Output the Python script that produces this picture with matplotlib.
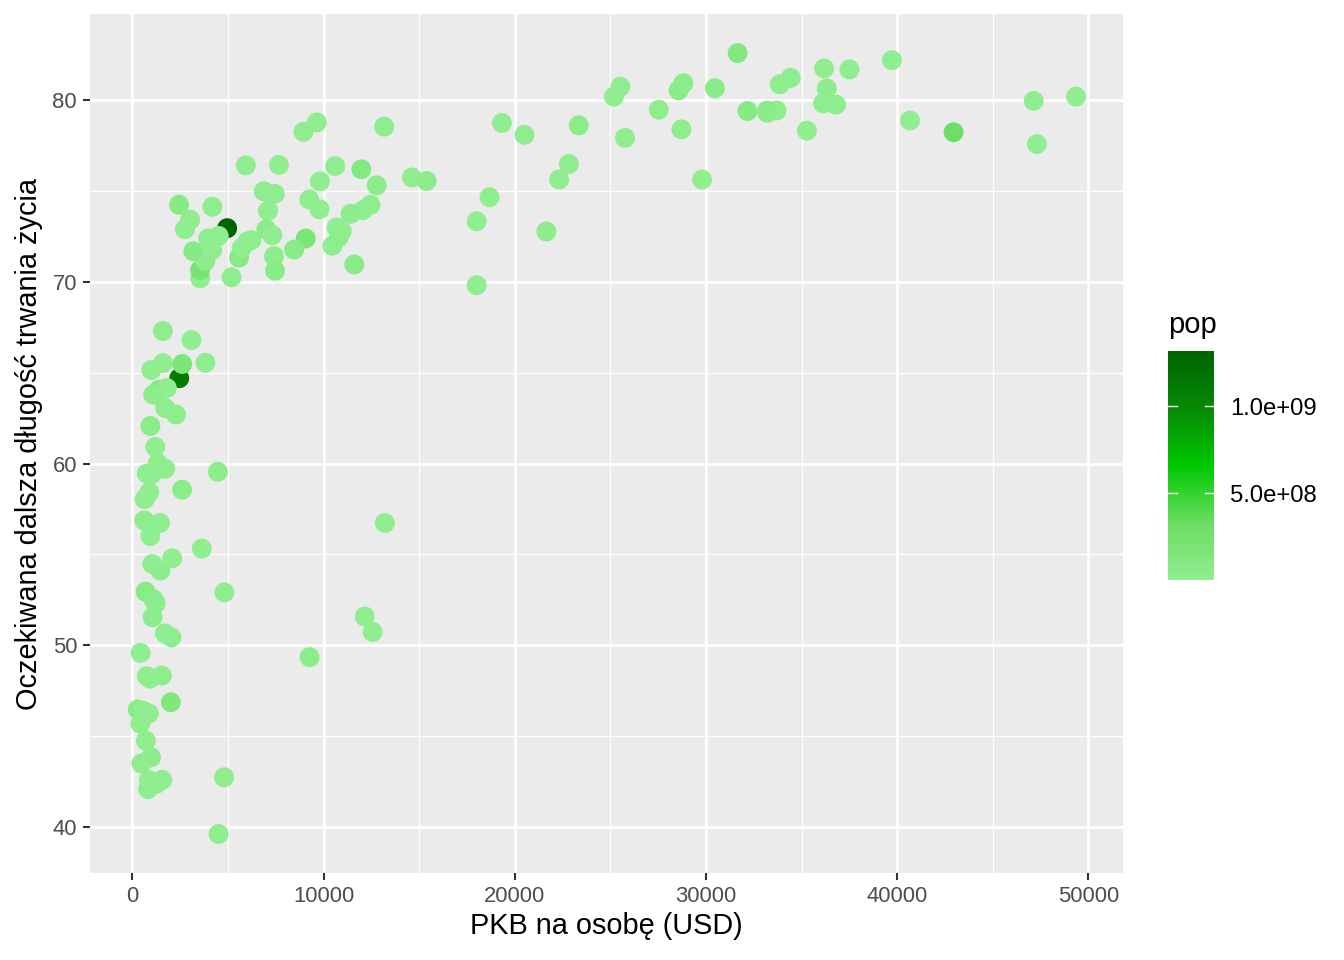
import numpy as np
import matplotlib
matplotlib.use("Agg")
from matplotlib import pyplot as plt
from matplotlib.colors import LinearSegmentedColormap, Normalize

plt.rcParams['font.family'] = ['Liberation Sans', 'DejaVu Sans']

# gapminder 2007: GDP per capita, life expectancy, population
gdp = [974.58, 5937.03, 6223.37, 4797.23, 12779.38, 34435.37, 36126.49, 29796.05,
       1391.25, 33692.61, 1441.28, 3822.14, 7446.30, 12569.85, 9065.80, 10680.79,
       1217.03, 430.07, 1713.78, 2042.10, 36319.24, 706.02, 1704.06, 13171.64,
       4959.11, 7006.58, 986.15, 277.55, 3632.56, 9645.06, 1544.75, 14619.22,
       8948.10, 22833.31, 35278.42, 2082.48, 6025.37, 6873.26, 5581.18, 5728.35,
       12154.09, 641.37, 690.81, 33207.08, 30470.02, 13206.48, 752.75, 32170.37,
       1327.61, 27538.41, 5186.05, 942.65, 579.23, 1201.64, 3548.33, 39724.98,
       18008.94, 36180.79, 2452.21, 3540.65, 11605.71, 4471.06, 40676.00, 25523.28,
       28569.72, 7320.88, 31656.07, 4519.46, 1463.25, 1593.07, 23348.14, 47306.99,
       10461.06, 1569.33, 414.51, 12057.50, 1044.77, 759.35, 12451.66, 1042.58,
       1803.15, 10956.99, 11977.57, 3095.77, 9253.90, 3820.18, 823.69, 944.00,
       4811.06, 1091.36, 36797.93, 25185.01, 2749.32, 619.68, 2013.98, 49357.19,
       22316.19, 2605.95, 9809.19, 4172.84, 7408.91, 3190.48, 15389.92, 20509.65,
       19328.71, 7670.12, 10808.48, 863.09, 1598.44, 21654.83, 1712.47, 9786.53,
       862.54, 47143.18, 18678.31, 25768.26, 926.14, 9269.66, 28821.06, 3970.10,
       2602.39, 4513.48, 33859.75, 37506.42, 4184.55, 28718.28, 1107.48, 7458.40,
       882.97, 18008.51, 7092.92, 8458.28, 1056.38, 33203.26, 42951.65, 10611.46,
       11415.81, 2441.58, 3025.35, 2280.77, 1271.21, 469.71]

life_exp = [43.83, 76.42, 72.30, 42.73, 75.32, 81.24, 79.83, 75.64,
            64.06, 79.44, 56.73, 65.55, 74.85, 50.73, 72.39, 73.00,
            52.30, 49.58, 59.72, 50.43, 80.65, 44.74, 50.65, 78.55,
            72.96, 72.89, 65.15, 46.46, 55.32, 78.78, 48.33, 75.75,
            78.27, 76.49, 78.33, 54.79, 72.23, 74.99, 71.34, 71.88,
            51.58, 58.04, 52.95, 79.31, 80.66, 56.73, 59.45, 79.41,
            60.02, 79.48, 70.26, 56.01, 46.39, 60.92, 70.20, 82.21,
            73.34, 81.76, 64.70, 70.65, 70.96, 59.55, 78.89, 80.75,
            80.55, 72.57, 82.60, 72.53, 54.11, 67.30, 78.62, 77.59,
            71.99, 42.59, 45.68, 73.95, 59.44, 48.30, 74.24, 54.47,
            64.16, 72.80, 76.20, 66.80, 74.54, 71.16, 42.08, 62.07,
            52.91, 63.79, 79.76, 80.20, 72.90, 56.87, 46.86, 80.20,
            75.64, 65.48, 75.54, 71.75, 71.42, 71.69, 75.56, 78.10,
            78.75, 76.44, 72.48, 46.24, 65.53, 72.78, 63.06, 74.00,
            42.57, 79.97, 74.66, 77.93, 48.16, 49.34, 80.94, 72.40,
            58.56, 39.61, 80.88, 81.70, 74.14, 78.40, 52.52, 70.62,
            58.42, 69.82, 73.92, 71.78, 51.54, 79.43, 78.24, 76.38,
            73.75, 74.25, 73.42, 62.70, 42.38, 43.49]

pop = [31889923, 3600523, 33333216, 12420476, 40301927, 20434176, 8199783, 708573,
       150448339, 10392226, 8078314, 9119152, 4552198, 1639131, 190010647, 7322858,
       14326203, 8390505, 14131858, 17696293, 33390141, 4369038, 10238807, 16284741,
       1318683096, 44227550, 710960, 64606759, 3800610, 4133884, 18013409, 4493312,
       11416987, 10228744, 5468120, 496374, 9319622, 13755680, 80264543, 6939688,
       551201, 4906585, 76511887, 5238460, 61083916, 1454867, 1688359, 82400996,
       22873338, 10706290, 12572928, 9947814, 1472041, 8502814, 7483763, 6980412,
       9956108, 301931, 1110396331, 223547000, 69453570, 27499638, 4109086, 6426679,
       58147733, 2780132, 127467972, 6053193, 35610177, 23301725, 49044790, 2505559,
       3921278, 2012649, 3193942, 6036914, 19167654, 13327079, 24821286, 12031795,
       3270065, 1250882, 108700891, 2874127, 684736, 33757175, 19951656, 47761980,
       2055080, 28901790, 16570613, 4115771, 5675356, 12894865, 135031164, 4627926,
       3204897, 169270617, 3242173, 6667147, 28674757, 91077287, 38518241, 10642836,
       3942491, 798094, 22276056, 8860588, 199579, 27601038, 12267493, 10150265,
       6144562, 4553009, 5447502, 2009245, 9118773, 43997828, 40448191, 20378239,
       42292929, 1133066, 9031088, 7554661, 19314747, 23174294, 38139640, 65068149,
       5701579, 1056608, 10276158, 71158647, 29170398, 60776238, 301139947, 3447496,
       26084662, 85262356, 4018332, 22211743, 11746035, 12311143]

x_ticks = [0, 10000, 20000, 30000, 40000, 50000]
y_ticks = [40, 50, 60, 70, 80]
cbar_ticks = [5e8, 1e9]
cbar_labels = ["5.0e+08", "1.0e+09"]

cmap = LinearSegmentedColormap.from_list(
    "greens", ["#90EE90", "#6BDE62", "#00C800", "#068A06", "#006400"])
norm = Normalize(min(pop), max(pop))

fig = plt.figure(figsize=(13.44, 9.6), dpi=100)
ax = fig.add_axes([90 / 1344, 1 - 873 / 960, (1123 - 90) / 1344, (873 - 14) / 960])
ax.set_facecolor("#EBEBEB")
for s in ax.spines.values():
    s.set_visible(False)

ax.scatter(gdp, life_exp, c=pop, cmap=cmap, norm=norm, s=205, linewidths=0, zorder=3)

ax.set_xlim(-2215, 51813)
ax.set_ylim(37.46, 84.75)
ax.set_xticks(x_ticks)
ax.set_yticks(y_ticks)
ax.set_xticks(np.arange(5000, 50000, 10000), minor=True)
ax.set_yticks(np.arange(45, 85, 10), minor=True)
ax.grid(which="major", color="white", linewidth=1.9, zorder=0)
ax.grid(which="minor", color="white", linewidth=0.9, zorder=0)
ax.set_axisbelow(True)
ax.tick_params(which="major", length=5, width=1.5, color="#333333",
               labelsize=15.8, labelcolor="#4D4D4D", pad=4.3)
ax.tick_params(which="minor", length=0)

ax.set_xlabel("PKB na osobę (USD)", fontsize=20.8, labelpad=4)
ax.set_ylabel("Oczekiwana dalsza długość trwania życia", fontsize=20.8, labelpad=7)

# colour bar legend
cax = fig.add_axes([1168 / 1344, 1 - 580 / 960, 46 / 1344, 229 / 960])
grad = np.linspace(min(pop), max(pop), 300).reshape(-1, 1)
cax.imshow(grad, cmap=cmap, norm=norm, aspect="auto", origin="lower",
           extent=[0, 1, min(pop), max(pop)])
cax.set_xlim(0, 1)
cax.set_ylim(min(pop), max(pop))
for s in cax.spines.values():
    s.set_visible(False)
cax.set_xticks([])
cax.set_yticks(cbar_ticks)
cax.set_yticklabels(cbar_labels)
cax.yaxis.tick_right()
cax.tick_params(axis="y", length=0, labelsize=17.2, labelcolor="black", pad=11.5)
for t in cbar_ticks:
    cax.plot([0, 0.2], [t, t], color="white", lw=1)
    cax.plot([0.8, 1], [t, t], color="white", lw=1)
fig.text(1168 / 1344, 1 - 325 / 960, "pop", fontsize=21, va="center", ha="left")

fig.savefig("out.png", dpi=100)
